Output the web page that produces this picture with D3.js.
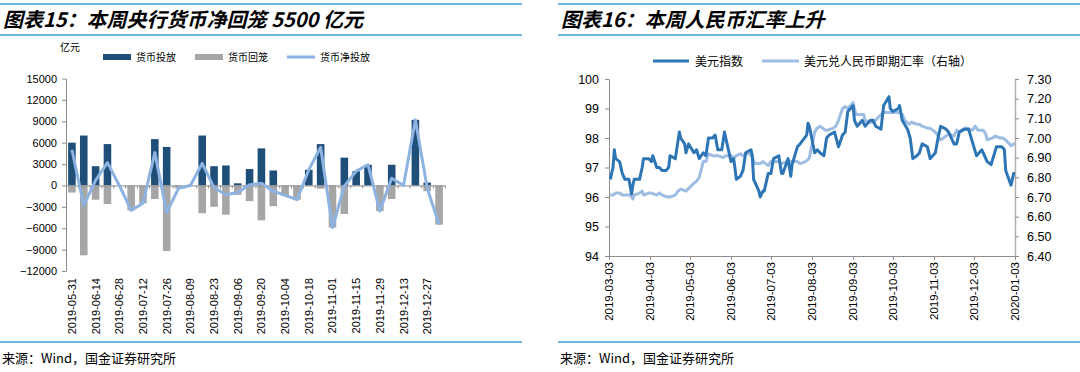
<!DOCTYPE html>
<html>
<head>
<meta charset="utf-8">
<script src="https://cdn.jsdelivr.net/npm/d3@7"></script>
<style>
  body { margin: 0; background: #fff; }
  svg { display: block; }
  text { font-family: "Liberation Sans", Arial, sans-serif; fill: #000; }
  .cjk { font-family: "Noto Sans CJK SC", sans-serif; }
</style>
</head>
<body>
<div class="svg"></div>
<script>
var svgWidth = 1080;
var svgHeight = 372;

// ---- left chart data (weekly, 亿元) ----
var weeks = ["2019-05-31", "2019-06-07", "2019-06-14", "2019-06-21", "2019-06-28", "2019-07-05",
  "2019-07-12", "2019-07-19", "2019-07-26", "2019-08-02", "2019-08-09", "2019-08-16",
  "2019-08-23", "2019-08-30", "2019-09-06", "2019-09-13", "2019-09-20", "2019-09-27",
  "2019-10-04", "2019-10-11", "2019-10-18", "2019-10-25", "2019-11-01", "2019-11-08",
  "2019-11-15", "2019-11-22", "2019-11-29", "2019-12-06", "2019-12-13", "2019-12-20",
  "2019-12-27", "2020-01-03"];
var injection = [6000, 7000, 2700, 5800, 0, 0, 0, 6500, 5400, 0, 0, 7000, 2700, 2800, 300, 2300,
  5200, 2100, 0, 0, 2200, 5800, 0, 3900, 2000, 2900, 0, 2900, 0, 9200, 400, 0];
var withdrawal = [-1000, -9800, -2000, -2600, 0, -3500, -2500, -1900, -9200, -400, 0, -3900, -3000,
  -4100, -1300, -2200, -4900, -2900, -1400, -2000, 0, -450, -5900, -4000, 0, 0, -3600, -1900, 0, 0,
  -800, -5500];
var netInjection = injection.map(function(d, i) { return d + withdrawal[i]; });
var leftTicks = [15000, 12000, 9000, 6000, 3000, 0, -3000, -6000, -9000, -12000];

// ---- right chart data ----
var dxyDates = ["03-04", "03-06", "03-07", "03-08", "03-11", "03-13", "03-15", "03-18", "03-20",
  "03-21", "03-22", "03-26", "03-28", "03-29", "04-02", "04-04", "04-05", "04-08", "04-10", "04-12",
  "04-15", "04-17", "04-18", "04-22", "04-23", "04-25", "04-26", "04-29", "04-30", "05-02", "05-06",
  "05-08", "05-10", "05-13", "05-15", "05-17", "05-20", "05-22", "05-24", "05-27", "05-29", "05-31",
  "06-03", "06-05", "06-07", "06-10", "06-12", "06-14", "06-18", "06-19", "06-20", "06-24", "06-25",
  "06-27", "06-28", "07-01", "07-03", "07-05", "07-09", "07-11", "07-12", "07-16", "07-18", "07-19",
  "07-23", "07-25", "07-30", "07-31", "08-01", "08-05", "08-07", "08-09", "08-12", "08-14", "08-16",
  "08-20", "08-23", "08-26", "08-28", "08-30", "09-03", "09-04", "09-06", "09-10", "09-12", "09-16",
  "09-18", "09-20", "09-24", "09-26", "09-30", "10-01", "10-03", "10-07", "10-08", "10-10", "10-14",
  "10-16", "10-18", "10-21", "10-23", "10-25", "10-29", "10-31", "11-04", "11-06", "11-08", "11-12",
  "11-14", "11-18", "11-20", "11-22", "11-26", "11-29", "12-03", "12-05", "12-09", "12-11", "12-13",
  "12-16", "12-18", "12-20", "12-24", "12-26", "12-27", "12-31", "01-02", "01-03"];
var dxyValues = [96.6, 97.0, 97.6, 97.3, 97.2, 96.8, 96.6, 96.6, 96.1, 96.4, 96.6, 96.6, 97.0, 97.3,
  97.3, 97.2, 97.4, 97.0, 97.0, 96.9, 96.9, 97.0, 97.4, 97.3, 97.6, 98.2, 98.0, 97.8, 97.5, 97.8,
  97.5, 97.6, 97.3, 97.5, 97.4, 98.0, 98.0, 98.1, 97.6, 97.6, 98.2, 97.8, 97.2, 97.3, 96.6, 96.7,
  96.9, 97.5, 97.6, 97.4, 96.6, 96.2, 96.0, 96.2, 96.2, 96.8, 96.8, 97.3, 97.4, 96.8, 96.8, 97.3,
  96.7, 97.1, 97.7, 97.8, 98.1, 98.5, 98.4, 97.5, 97.6, 97.5, 97.4, 98.0, 98.1, 98.2, 97.7, 98.1,
  98.2, 98.9, 99.1, 98.6, 98.4, 98.6, 98.4, 98.6, 98.6, 98.4, 98.3, 99.1, 99.4, 99.0, 98.9, 99.0,
  99.1, 98.6, 98.3, 98.0, 97.3, 97.4, 97.5, 97.8, 97.7, 97.3, 97.5, 98.0, 98.4, 98.3, 98.2, 97.8,
  97.8, 98.2, 98.3, 98.3, 97.7, 97.4, 97.6, 97.4, 97.2, 97.1, 97.4, 97.7, 97.7, 97.6, 96.9, 96.4,
  96.8, 96.8];
var cnyDates = ["03-04", "03-06", "03-08", "03-11", "03-13", "03-15", "03-19", "03-21", "03-22",
  "03-26", "03-28", "03-29", "04-02", "04-04", "04-08", "04-10", "04-12", "04-16", "04-18", "04-22",
  "04-24", "04-26", "04-30", "05-06", "05-08", "05-10", "05-13", "05-15", "05-17", "05-20", "05-22",
  "05-24", "05-28", "05-30", "06-03", "06-05", "06-07", "06-10", "06-12", "06-14", "06-17", "06-19",
  "06-21", "06-25", "06-27", "07-01", "07-03", "07-05", "07-09", "07-11", "07-15", "07-17", "07-19",
  "07-23", "07-25", "07-29", "07-31", "08-01", "08-05", "08-07", "08-09", "08-13", "08-15", "08-19",
  "08-21", "08-23", "08-26", "08-28", "08-30", "09-03", "09-05", "09-09", "09-11", "09-12", "09-16",
  "09-18", "09-20", "09-24", "09-26", "09-30", "10-08", "10-10", "10-12", "10-15", "10-17", "10-21",
  "10-23", "10-25", "10-29", "10-31", "11-04", "11-06", "11-08", "11-12", "11-14", "11-18", "11-20",
  "11-22", "11-26", "11-28", "12-02", "12-04", "12-06", "12-10", "12-12", "12-13", "12-17", "12-19",
  "12-23", "12-25", "12-27", "12-31", "01-02", "01-03"];
var cnyValues = [6.71, 6.71, 6.72, 6.72, 6.71, 6.71, 6.71, 6.69, 6.71, 6.72, 6.73, 6.71, 6.72, 6.72,
  6.71, 6.72, 6.71, 6.70, 6.70, 6.71, 6.73, 6.74, 6.73, 6.77, 6.78, 6.80, 6.88, 6.88, 6.92, 6.91,
  6.91, 6.91, 6.90, 6.91, 6.91, 6.90, 6.91, 6.92, 6.91, 6.92, 6.92, 6.90, 6.87, 6.87, 6.88, 6.86,
  6.88, 6.88, 6.88, 6.87, 6.88, 6.88, 6.88, 6.88, 6.87, 6.88, 6.89, 6.90, 7.03, 7.05, 7.06, 7.04,
  7.04, 7.05, 7.06, 7.09, 7.15, 7.16, 7.15, 7.18, 7.12, 7.12, 7.12, 7.09, 7.08, 7.08, 7.09, 7.12,
  7.13, 7.13, 7.13, 7.12, 7.09, 7.07, 7.08, 7.07, 7.07, 7.06, 7.05, 7.05, 7.03, 7.01, 6.99, 7.01,
  7.02, 7.01, 7.04, 7.03, 7.05, 7.05, 7.04, 7.06, 7.04, 7.04, 7.02, 6.99, 7.00, 7.01, 7.00, 7.00,
  6.99, 6.96, 6.97, 6.97];
var monthTicks = ["2019-03-03", "2019-04-03", "2019-05-03", "2019-06-03", "2019-07-03", "2019-08-03",
  "2019-09-03", "2019-10-03", "2019-11-03", "2019-12-03", "2020-01-03"];
var dxyTicks = [94, 95, 96, 97, 98, 99, 100];
var cnyTicks = [6.4, 6.5, 6.6, 6.7, 6.8, 6.9, 7.0, 7.1, 7.2, 7.3];

var headColor = "#3a9fd6";
var axisColor = "#8c8c8c";

var svg = d3.selectAll(".svg")
  .append("svg")
  .attr("width", svgWidth)
  .attr("height", svgHeight);

function header(x0, x1, title) {
  svg.append("line").attr("x1", x0).attr("x2", x1).attr("y1", 4).attr("y2", 4)
    .attr("stroke", headColor).attr("stroke-width", 1.5);
  svg.append("line").attr("x1", x0).attr("x2", x1).attr("y1", 35).attr("y2", 35)
    .attr("stroke", headColor).attr("stroke-width", 1.5);
  svg.append("text").attr("class", "cjk")
    .attr("x", x0 + 3).attr("y", 27)
    .attr("font-size", 20).attr("font-weight", "bold").attr("font-style", "italic")
    .text(title);
  svg.append("line").attr("x1", x0).attr("x2", x1).attr("y1", 342).attr("y2", 342)
    .attr("stroke", headColor).attr("stroke-width", 1.5);
  svg.append("text").attr("class", "cjk")
    .attr("x", x0 + 2).attr("y", 363)
    .attr("font-size", 13)
    .text("来源：Wind，国金证券研究所");
}

header(0, 522, "图表15：本周央行货币净回笼 5500 亿元");
header(558, 1080, "图表16：本周人民币汇率上升");

// ================= left chart =================
var xBand = d3.scaleBand().domain(weeks).range([66, 445]).paddingInner(0.36).paddingOuter(0.18);
var yLeft = d3.scaleLinear().domain([-12000, 15000]).range([271, 78.5]);

svg.append("text").attr("class", "cjk").attr("x", 60).attr("y", 51).attr("font-size", 10).text("亿元");

var gLeftAxis = svg.append("g")
  .attr("transform", "translate(66,0)")
  .call(d3.axisLeft(yLeft).tickValues(leftTicks).tickSize(4).tickSizeOuter(0).tickFormat(d3.format("d")));
gLeftAxis.select(".domain").attr("stroke", axisColor);
gLeftAxis.selectAll(".tick line").attr("stroke", axisColor);
gLeftAxis.selectAll("text").attr("font-size", 11).attr("fill", "#000")
  .attr("font-family", "Liberation Sans, Arial, sans-serif").attr("dx", -2);

svg.append("g").selectAll("rect.inj")
  .data(injection).enter().append("rect")
  .attr("x", function(d, i) { return xBand(weeks[i]); })
  .attr("width", xBand.bandwidth())
  .attr("y", function(d) { return yLeft(Math.max(d, 0)); })
  .attr("height", function(d) { return Math.abs(yLeft(d) - yLeft(0)); })
  .attr("fill", "#1f4e79");

svg.append("g").selectAll("rect.wd")
  .data(withdrawal).enter().append("rect")
  .attr("x", function(d, i) { return xBand(weeks[i]); })
  .attr("width", xBand.bandwidth())
  .attr("y", yLeft(0))
  .attr("height", function(d) { return Math.abs(yLeft(d) - yLeft(0)); })
  .attr("fill", "#a6a6a6");

// zero axis with small ticks between categories
var xAxisLeft = d3.axisBottom(d3.scalePoint().domain(d3.range(weeks.length + 1)).range([66, 445]))
  .tickSize(3).tickFormat("").tickSizeOuter(0);
var gZero = svg.append("g").attr("transform", "translate(0," + yLeft(0) + ")").call(xAxisLeft);
gZero.select(".domain").attr("stroke", axisColor);
gZero.selectAll(".tick line").attr("stroke", axisColor);

svg.append("path")
  .datum(netInjection)
  .attr("fill", "none")
  .attr("stroke", "#8db3e2")
  .attr("stroke-width", 3)
  .attr("stroke-linejoin", "round")
  .attr("d", d3.line()
    .x(function(d, i) { return xBand(weeks[i]) + xBand.bandwidth() / 2; })
    .y(function(d) { return yLeft(d); }));

svg.append("g").selectAll("text")
  .data(weeks.filter(function(d, i) { return i % 2 === 0 && i < 31; }))
  .enter().append("text")
  .attr("transform", function(d) {
    return "translate(" + (xBand(d) + xBand.bandwidth() / 2 + 4) + ",278) rotate(-90)";
  })
  .attr("text-anchor", "end")
  .attr("font-size", 11)
  .text(function(d) { return d; });

// legend
var legL = svg.append("g");
legL.append("rect").attr("x", 103).attr("y", 54).attr("width", 28).attr("height", 6).attr("fill", "#1f4e79");
legL.append("text").attr("class", "cjk").attr("x", 136).attr("y", 61).attr("font-size", 10).text("货币投放");
legL.append("rect").attr("x", 195).attr("y", 54).attr("width", 28).attr("height", 6).attr("fill", "#a6a6a6");
legL.append("text").attr("class", "cjk").attr("x", 228).attr("y", 61).attr("font-size", 10).text("货币回笼");
legL.append("line").attr("x1", 287).attr("x2", 315).attr("y1", 57).attr("y2", 57)
  .attr("stroke", "#8db3e2").attr("stroke-width", 3);
legL.append("text").attr("class", "cjk").attr("x", 320).attr("y", 61).attr("font-size", 10).text("货币净投放");

// ================= right chart =================
var parseDay = d3.timeParse("%Y-%m-%d");
function fullDate(md) { return parseDay((md.slice(0, 2) === "01" ? "2020-" : "2019-") + md); }

var xTime = d3.scaleTime()
  .domain([parseDay("2019-03-03"), parseDay("2020-01-03")])
  .range([609, 1015]);
var yDxy = d3.scaleLinear().domain([94, 100]).range([256, 79]);
var yCny = d3.scaleLinear().domain([6.4, 7.3]).range([256, 79]);

var gL = svg.append("g").attr("transform", "translate(609,0)")
  .call(d3.axisLeft(yDxy).tickValues(dxyTicks).tickSize(4).tickSizeOuter(0).tickFormat(d3.format("d")));
gL.select(".domain").attr("stroke", axisColor);
gL.selectAll(".tick line").attr("stroke", axisColor);
gL.selectAll("text").attr("font-size", 12.5).attr("fill", "#000")
  .attr("font-family", "Liberation Sans, Arial, sans-serif").attr("dx", -3);

var gR = svg.append("g").attr("transform", "translate(1015,0)")
  .call(d3.axisRight(yCny).tickValues(cnyTicks).tickSize(4).tickSizeOuter(0).tickFormat(d3.format(".2f")));
gR.select(".domain").attr("stroke", "#b0b0b0").attr("stroke-width", 1.5);
gR.selectAll(".tick line").attr("stroke", axisColor);
gR.selectAll("text").attr("font-size", 12.5).attr("fill", "#000")
  .attr("font-family", "Liberation Sans, Arial, sans-serif").attr("dx", 5);

var gB = svg.append("g").attr("transform", "translate(0,256)")
  .call(d3.axisBottom(xTime).tickValues(monthTicks.map(parseDay)).tickSize(4).tickSizeOuter(0).tickFormat(""));
gB.select(".domain").attr("stroke", axisColor);
gB.selectAll(".tick line").attr("stroke", axisColor);

svg.append("g").selectAll("text")
  .data(monthTicks).enter().append("text")
  .attr("transform", function(d) { return "translate(" + (xTime(parseDay(d)) + 4) + ",262) rotate(-90)"; })
  .attr("text-anchor", "end")
  .attr("font-size", 11.5)
  .text(function(d) { return d; });

svg.append("path")
  .datum(cnyValues)
  .attr("fill", "none")
  .attr("stroke", "#9dbde3")
  .attr("stroke-width", 3)
  .attr("stroke-linejoin", "round")
  .attr("d", d3.line()
    .x(function(d, i) { return xTime(fullDate(cnyDates[i])); })
    .y(function(d) { return yCny(d); }));

svg.append("path")
  .datum(dxyValues)
  .attr("fill", "none")
  .attr("stroke", "#2e75b6")
  .attr("stroke-width", 3)
  .attr("stroke-linejoin", "round")
  .attr("d", d3.line()
    .x(function(d, i) { return xTime(fullDate(dxyDates[i])); })
    .y(function(d) { return yDxy(d); }));

var legR = svg.append("g");
legR.append("line").attr("x1", 653).attr("x2", 689).attr("y1", 61).attr("y2", 61)
  .attr("stroke", "#2e75b6").attr("stroke-width", 3);
legR.append("text").attr("class", "cjk").attr("x", 695).attr("y", 65.5).attr("font-size", 12).text("美元指数");
legR.append("line").attr("x1", 762).attr("x2", 799).attr("y1", 61).attr("y2", 61)
  .attr("stroke", "#9dbde3").attr("stroke-width", 3);
legR.append("text").attr("class", "cjk").attr("x", 804).attr("y", 65.5).attr("font-size", 12).text("美元兑人民币即期汇率（右轴）");
</script>
</body>
</html>
